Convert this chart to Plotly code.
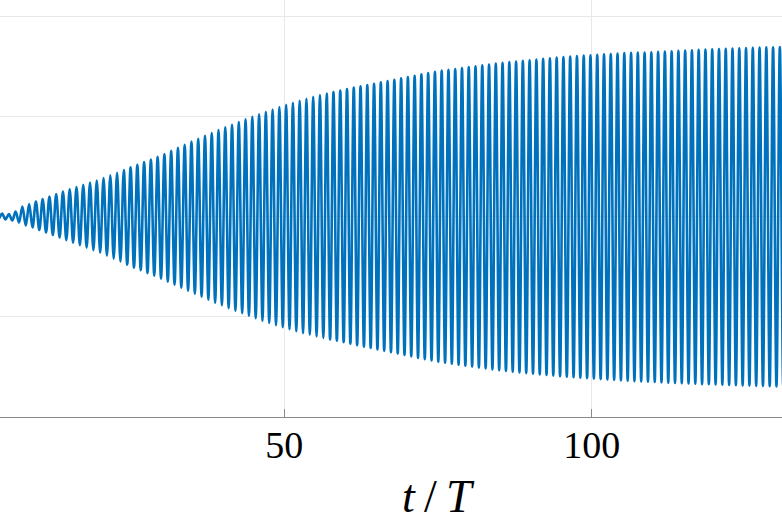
import numpy as np
import plotly.graph_objects as go

# ---- data ----
# oscillation period (in t/T units) and time of the first crest
PERIOD = 1.1
T_FIRST_CREST = 3.0

# crest values, one per cycle (t = T_FIRST_CREST + k*PERIOD)
crests = [
    0.02, 0.03, 0.025, 0.05, 0.10, 0.125, 0.15, 0.175, 0.20, 0.224,
    0.248, 0.272, 0.294, 0.316, 0.338, 0.36, 0.384, 0.41, 0.437, 0.464,
    0.49, 0.516, 0.543, 0.569, 0.596, 0.624, 0.655, 0.686, 0.716, 0.747,
    0.776, 0.805, 0.833, 0.862, 0.89, 0.916, 0.942, 0.969, 0.995, 1.02,
    1.044, 1.068, 1.092, 1.115, 1.135, 1.155, 1.175, 1.195, 1.211, 1.227,
    1.242, 1.257, 1.272, 1.286, 1.299, 1.312, 1.325, 1.338, 1.352, 1.365,
    1.378, 1.391, 1.404, 1.418, 1.431, 1.444, 1.455, 1.464, 1.472, 1.481,
    1.49, 1.499, 1.508, 1.516, 1.525, 1.533, 1.54, 1.546, 1.553, 1.559,
    1.566, 1.573, 1.579, 1.586, 1.592, 1.596, 1.60, 1.605, 1.609, 1.614,
    1.618, 1.622, 1.627, 1.631, 1.633, 1.635, 1.637, 1.639, 1.642, 1.646,
    1.649, 1.652, 1.656, 1.659, 1.662, 1.666, 1.669, 1.671, 1.674, 1.676,
    1.678, 1.68, 1.682, 1.685, 1.687, 1.689, 1.691, 1.693,
]

# trough values, one per cycle (half a period after each crest)
troughs = [
    -0.02, -0.03, -0.04, -0.06, -0.09, -0.11, -0.135, -0.16, -0.185, -0.21,
    -0.235, -0.26, -0.285, -0.31, -0.335, -0.36, -0.39, -0.42, -0.45, -0.48,
    -0.51, -0.535, -0.565, -0.59, -0.62, -0.65, -0.68, -0.71, -0.74, -0.77,
    -0.80, -0.83, -0.86, -0.885, -0.915, -0.94, -0.965, -0.99, -1.015, -1.04,
    -1.062, -1.084, -1.105, -1.125, -1.145, -1.163, -1.18, -1.196, -1.211, -1.226,
    -1.24, -1.255, -1.27, -1.284, -1.298, -1.312, -1.326, -1.34, -1.354, -1.368,
    -1.382, -1.396, -1.41, -1.423, -1.436, -1.448, -1.459, -1.469, -1.479, -1.489,
    -1.498, -1.507, -1.516, -1.525, -1.533, -1.541, -1.548, -1.555, -1.562, -1.569,
    -1.575, -1.581, -1.587, -1.593, -1.598, -1.603, -1.608, -1.613, -1.618, -1.622,
    -1.626, -1.63, -1.634, -1.638, -1.642, -1.645, -1.648, -1.651, -1.654, -1.657,
    -1.66, -1.663, -1.666, -1.669, -1.672, -1.674, -1.676, -1.679, -1.681, -1.683,
    -1.685, -1.687, -1.689, -1.691, -1.693, -1.695, -1.697, -1.699,
]

x_ticks = [50, 100]
x_tick_labels = ["50", "100"]
y_grid = [-2, -1, 0, 1, 2]

# ---- build the series ----
n = min(len(crests), len(troughs))
t_crest = T_FIRST_CREST + PERIOD * np.arange(n)
t_trough = t_crest + PERIOD / 2
t = np.empty(2 * n)
y = np.empty(2 * n)
t[0::2] = t_crest
t[1::2] = t_trough
y[0::2] = crests[:n]
y[1::2] = troughs[:n]

AXIS_COLOR = "#8a8a8a"
GRID_COLOR = "#e8e8e8"
FONT = "Liberation Serif"

fig = go.Figure()
fig.add_trace(go.Scatter(
    x=t, y=y, mode="lines",
    line=dict(color="#0072BD", width=2.6, shape="spline", smoothing=1.0),
    showlegend=False, hoverinfo="skip",
))

fig.update_layout(
    width=782, height=521,
    margin=dict(l=0, r=0, t=0, b=104),
    paper_bgcolor="white", plot_bgcolor="white",
    font=dict(family=FONT, size=38, color="#000000"),
)

fig.update_xaxes(
    range=[3.76, 130.95],
    tickvals=x_ticks, ticktext=x_tick_labels,
    ticks="inside", ticklen=8, tickwidth=1, tickcolor=AXIS_COLOR,
    showline=True, linecolor=AXIS_COLOR, linewidth=1,
    showgrid=True, gridcolor=GRID_COLOR, gridwidth=1,
    zeroline=False,
    tickfont=dict(family=FONT, size=38, color="#000000"),
    ticklabelstandoff=-6,
)
fig.update_yaxes(
    range=[-2, 2.16],
    tickvals=y_grid,
    showticklabels=False, ticks="",
    showline=False, zeroline=False,
    showgrid=True, gridcolor=GRID_COLOR, gridwidth=1,
)

fig.add_annotation(
    x=75, xref="x", y=-0.19, yref="paper",
    text="<i>t</i>\u2009/\u2009<i>T</i>", showarrow=False,
    xanchor="center", yanchor="middle",
    font=dict(family=FONT, size=46, color="#000000"),
)

fig.write_html(
    "out.html",
    config={"displayModeBar": False},
    post_script="document.body.style.margin='0';document.body.style.overflow='hidden';",
)
